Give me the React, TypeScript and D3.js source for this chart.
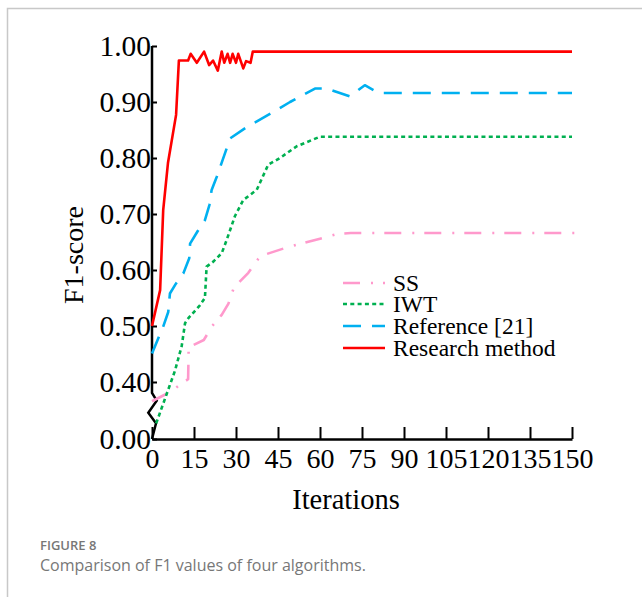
import React, { useEffect, useRef } from "react";
import * as d3 from "d3";

// iteration / F1 pairs
const ssIter = [0, 7, 10.6, 12.9, 13.1, 18.5, 21.5, 24.9, 27.3, 29, 31.5, 34.4, 38, 40, 48, 60, 66, 71, 154];
const ssF1 = [0.265, 0.335, 0.39, 0.405, 0.462, 0.475, 0.5, 0.52, 0.54, 0.565, 0.58, 0.595, 0.62, 0.627, 0.64, 0.656, 0.664, 0.666, 0.666];

const iwtIter = [1.5, 8.2, 10.6, 11.8, 13, 17.1, 18.9, 19.5, 21.9, 24.9, 26.7, 29.6, 32.6, 37.4, 41.5, 45.7, 51.7, 60, 150];
const iwtF1 = [0.11, 0.42, 0.464, 0.505, 0.514, 0.537, 0.55, 0.606, 0.615, 0.63, 0.654, 0.696, 0.725, 0.743, 0.788, 0.8, 0.821, 0.838, 0.838];

const refIter = [0, 2.25, 4, 5.8, 6.4, 8.6, 11.2, 13.3, 13.6, 16.5, 18.9, 20.5, 21.3, 23.1, 27.9, 33.8, 43.3, 49.3, 58.2, 62.4, 70.7, 76, 79.6, 81.4, 150];
const refF1 = [0.451, 0.478, 0.499, 0.525, 0.558, 0.576, 0.594, 0.621, 0.647, 0.671, 0.689, 0.716, 0.743, 0.766, 0.835, 0.855, 0.882, 0.9, 0.924, 0.924, 0.91, 0.93, 0.92, 0.916, 0.916];

const resIter = [0, 2.9, 4, 5.7, 8.6, 9.6, 12.9, 13.8, 16, 18.6, 20.4, 21.8, 23.5, 24.9, 25.8, 27, 27.9, 28.8, 30, 30.8, 32.6, 33.6, 35.2, 36, 150];
const resF1 = [0.5, 0.564, 0.707, 0.791, 0.877, 0.974, 0.974, 0.986, 0.97, 0.99, 0.966, 0.974, 0.956, 0.99, 0.97, 0.986, 0.97, 0.986, 0.97, 0.986, 0.96, 0.973, 0.97, 0.99, 0.99];

const xTicks = [0, 15, 30, 45, 60, 75, 90, 105, 120, 135, 150];
const yTicks = [0, 0.4, 0.5, 0.6, 0.7, 0.8, 0.9, 1.0];
const seriesNames = ["SS", "IWT", "Reference [21]", "Research method"];

const series = [
  { name: seriesNames[0], xs: ssIter, ys: ssF1, color: "#ff99cc", dash: "17,11,2,10" },
  { name: seriesNames[1], xs: iwtIter, ys: iwtF1, color: "#00b050", dash: "4,3.3" },
  { name: seriesNames[2], xs: refIter, ys: refF1, color: "#00b0f0", dash: "18,11" },
  { name: seriesNames[3], xs: resIter, ys: resF1, color: "#ff0000", dash: null },
];

const serif = "'Liberation Serif', 'Times New Roman', serif";

export default function App() {
  const ref = useRef<SVGSVGElement>(null);

  useEffect(() => {
    const svg = d3.select(ref.current);
    svg.selectAll("*").remove();

    const x = d3.scaleLinear().domain([0, 150]).range([152, 572]);
    // broken axis: 0 -> 0.4 squeezed into one step
    const y = d3.scaleLinear().domain([0, 0.4, 1.0]).range([439, 382, 46]);

    // frame
    svg.append("path").attr("d", "M7.5,597 L7.5,8.5 L642,8.5").attr("fill", "none").attr("stroke", "#c8c8c8").attr("stroke-width", 1.5);

    const xAxis = svg
      .append("g")
      .attr("transform", `translate(0, ${y(0)})`)
      .call(d3.axisBottom(x).tickValues(xTicks).tickSize(-12).tickSizeOuter(0).tickPadding(9).tickFormat(d3.format("d")));
    xAxis.select(".domain").attr("stroke-width", 2.5).attr("stroke", "#000");
    xAxis.selectAll(".tick line").attr("stroke-width", 2);
    xAxis.selectAll("text").style("font-family", serif).style("font-size", "28px").attr("fill", "#000");

    const yAxis = svg
      .append("g")
      .attr("transform", `translate(152, 0)`)
      .call(d3.axisLeft(y).tickValues(yTicks).tickSize(-5).tickPadding(1).tickFormat(d3.format(".2f")));
    yAxis.select(".domain").remove();
    yAxis.selectAll(".tick line").attr("stroke-width", 2);
    yAxis.selectAll("text").style("font-family", serif).style("font-size", "29.5px").attr("fill", "#000").attr("dy", "0.33em");

    // y axis line with the break zigzag
    svg
      .append("path")
      .attr("d", `M152,${y(1)} L152,${y(0.4) + 11} L156.7,400.7 L148.3,412.7 L156,423.3 L152,${y(0)}`)
      .attr("fill", "none")
      .attr("stroke", "#000")
      .attr("stroke-width", 2.5);

    const line = d3
      .line<[number, number]>()
      .x((d) => x(d[0]))
      .y((d) => y(d[1]));

    series.forEach((s) => {
      const pts = s.xs.map((v, i) => [v, s.ys[i]] as [number, number]);
      svg
        .append("path")
        .attr("d", line(pts))
        .attr("fill", "none")
        .attr("stroke", s.color)
        .attr("stroke-width", 2.6)
        .attr("stroke-dasharray", s.dash)
        .attr("stroke-linejoin", "round");
    });

    // legend
    const rowY = [283, 304, 326, 348];
    const lg = svg.append("g");
    series.forEach((s, i) => {
      lg.append("line")
        .attr("x1", 343)
        .attr("x2", 385)
        .attr("y1", rowY[i])
        .attr("y2", rowY[i])
        .attr("stroke", s.color)
        .attr("stroke-width", 2.6)
        .attr("stroke-dasharray", s.dash);
      lg.append("text")
        .attr("x", 393)
        .attr("y", rowY[i])
        .attr("dy", "0.35em")
        .style("font-family", serif)
        .style("font-size", "23.5px")
        .text(s.name);
    });

    svg
      .append("text")
      .attr("transform", "translate(83, 255) rotate(-90)")
      .attr("text-anchor", "middle")
      .style("font-family", serif)
      .style("font-size", "28px")
      .text("F1-score");

    svg
      .append("text")
      .attr("x", 346)
      .attr("y", 509)
      .attr("text-anchor", "middle")
      .style("font-family", serif)
      .style("font-size", "28.5px")
      .text("Iterations");

    svg
      .append("text")
      .attr("x", 40)
      .attr("y", 550)
      .style("font-family", "'Open Sans', 'Noto Sans', sans-serif")
      .style("font-size", "13px")
      .style("font-weight", 600)
      .attr("fill", "#777")
      .text("FIGURE 8");

    svg
      .append("text")
      .attr("x", 40)
      .attr("y", 571)
      .style("font-family", "'Open Sans', 'Noto Sans', sans-serif")
      .style("font-size", "16px")
      .attr("fill", "#777")
      .text("Comparison of F1 values of four algorithms.");
  }, []);

  return <svg ref={ref} width={642} height={597} style={{ position: "absolute", left: 0, top: 0, background: "#fff" }} />;
}
